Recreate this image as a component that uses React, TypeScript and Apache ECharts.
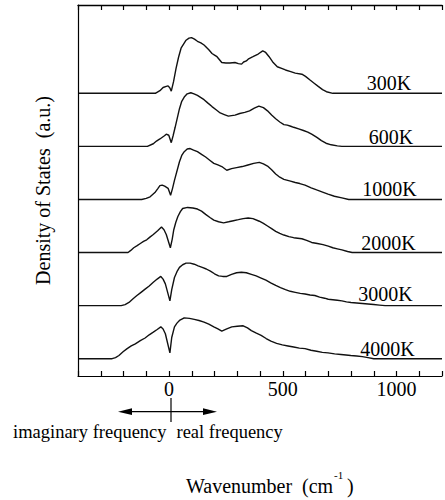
import React, { useEffect, useRef } from "react";
import * as echarts from "echarts";

// Wavenumber (cm^-1), density of states (a.u.)
const dos300K: number[][] = [[-400,0],[-60,0],[-40,0.05],[-26,0.11],[-12,0.13],[-4,0.14],[4,0.1],[10,0.04],[20,0.22],[31,0.47],[42,0.68],[53,0.85],[75,1.0],[88,1.04],[99,1.05],[112,1.02],[125,0.98],[140,0.95],[154,0.91],[175,0.82],[189,0.75],[200,0.72],[211,0.69],[232,0.58],[250,0.57],[268,0.57],[290,0.58],[305,0.56],[319,0.55],[328,0.59],[340,0.61],[350,0.65],[369,0.69],[392,0.74],[412,0.8],[425,0.77],[440,0.69],[458,0.58],[476,0.5],[495,0.47],[512,0.44],[535,0.41],[555,0.38],[584,0.36],[600,0.32],[620,0.25],[638,0.19],[656,0.13],[675,0.07],[692,0.03],[720,0],[1200,0]];
const dos600K: number[][] = [[-400,0],[-95,0],[-69,0.05],[-55,0.1],[-40,0.14],[-20,0.2],[-12,0.23],[-1,0.21],[10,0.07],[18,0.2],[27,0.36],[46,0.71],[56,0.85],[67,0.93],[80,0.99],[96,1.01],[110,0.99],[125,0.96],[154,0.88],[170,0.82],[189,0.75],[207,0.69],[225,0.63],[243,0.6],[261,0.57],[275,0.58],[290,0.59],[311,0.62],[333,0.64],[354,0.67],[375,0.72],[395,0.76],[415,0.73],[433,0.67],[451,0.59],[469,0.52],[487,0.46],[505,0.41],[520,0.4],[535,0.38],[548,0.36],[570,0.33],[591,0.3],[610,0.27],[627,0.23],[650,0.17],[670,0.11],[690,0.06],[713,0.03],[740,0.01],[760,0],[1200,0]];
const dos1000K: number[][] = [[-400,0],[-120,0],[-100,0.02],[-83,0.05],[-62,0.13],[-50,0.2],[-40,0.26],[-30,0.27],[-19,0.25],[-4,0.21],[7,0.08],[15,0.2],[24,0.36],[46,0.71],[56,0.83],[67,0.9],[80,0.95],[93,0.96],[108,0.93],[125,0.9],[143,0.85],[161,0.8],[179,0.74],[197,0.68],[215,0.65],[232,0.62],[254,0.55],[275,0.58],[297,0.6],[322,0.62],[347,0.65],[372,0.68],[397,0.7],[415,0.67],[433,0.63],[451,0.56],[469,0.48],[487,0.42],[505,0.38],[530,0.35],[555,0.32],[575,0.3],[598,0.27],[625,0.22],[649,0.18],[675,0.14],[699,0.1],[727,0.06],[760,0.03],[790,0],[1200,0]];
const dos2000K: number[][] = [[-400,0],[-180,0],[-168,0.04],[-155,0.09],[-140,0.13],[-126,0.17],[-112,0.21],[-98,0.24],[-84,0.29],[-69,0.34],[-50,0.41],[-33,0.48],[-22,0.43],[-12,0.34],[6,0.09],[14,0.25],[21,0.43],[30,0.57],[39,0.68],[50,0.77],[60,0.83],[82,0.85],[105,0.84],[125,0.82],[143,0.78],[161,0.72],[180,0.66],[197,0.61],[218,0.58],[240,0.56],[262,0.58],[283,0.6],[305,0.62],[326,0.64],[348,0.65],[369,0.64],[397,0.59],[415,0.55],[433,0.5],[451,0.45],[469,0.4],[487,0.36],[505,0.33],[527,0.3],[548,0.28],[566,0.27],[584,0.26],[605,0.23],[627,0.19],[652,0.17],[677,0.15],[700,0.12],[720,0.09],[740,0.07],[760,0.05],[785,0.02],[805,0],[1200,0]];
const dos3000K: number[][] = [[-400,0],[-210,0],[-193,0.02],[-176,0.06],[-158,0.13],[-141,0.19],[-123,0.25],[-105,0.31],[-87,0.37],[-69,0.44],[-52,0.5],[-36,0.55],[-26,0.5],[-16,0.41],[4,0.09],[12,0.3],[24,0.53],[35,0.64],[46,0.72],[60,0.77],[75,0.8],[93,0.8],[111,0.78],[128,0.75],[146,0.72],[164,0.69],[182,0.65],[200,0.6],[218,0.56],[236,0.55],[254,0.55],[275,0.59],[297,0.62],[318,0.63],[340,0.62],[362,0.59],[383,0.56],[405,0.52],[426,0.48],[447,0.43],[469,0.38],[490,0.34],[512,0.3],[533,0.27],[555,0.25],[577,0.23],[598,0.22],[620,0.2],[641,0.19],[662,0.16],[684,0.14],[700,0.12],[720,0.11],[740,0.1],[760,0.09],[780,0.07],[800,0.06],[825,0.05],[850,0.04],[875,0.03],[900,0.02],[925,0.01],[950,0],[1200,0]];
const dos4000K: number[][] = [[-400,0],[-250,0],[-235,0.02],[-220,0.06],[-202,0.13],[-184,0.19],[-166,0.24],[-148,0.28],[-126,0.34],[-105,0.39],[-87,0.45],[-69,0.5],[-52,0.55],[-36,0.6],[-26,0.56],[-16,0.47],[4,0.11],[12,0.4],[24,0.6],[35,0.67],[46,0.72],[67,0.77],[90,0.76],[111,0.74],[132,0.72],[154,0.69],[175,0.65],[197,0.6],[215,0.56],[232,0.52],[254,0.56],[276,0.6],[300,0.61],[326,0.62],[345,0.58],[362,0.53],[384,0.48],[405,0.44],[427,0.38],[448,0.33],[473,0.29],[498,0.26],[523,0.24],[548,0.22],[573,0.2],[598,0.19],[624,0.16],[649,0.14],[674,0.12],[699,0.11],[728,0.09],[756,0.08],[778,0.07],[799,0.06],[825,0.05],[850,0.04],[875,0.02],[900,0],[1200,0]];

const temperatures = ["300K", "600K", "1000K", "2000K", "3000K", "4000K"];
const curves = [dos300K, dos600K, dos1000K, dos2000K, dos3000K, dos4000K];
const offsets = [5, 4, 3, 2, 1, 0];
const majorTicks = [0, 500, 1000];
const X_MIN = -400;
const X_MAX = 1200;
const Y_MIN = -0.326;
const Y_MAX = 6.664;

const FONT = "Liberation Serif";

export default function App() {
  const ref = useRef<HTMLDivElement>(null);
  useEffect(() => {
    if (!ref.current) return;
    const chart = echarts.init(ref.current, undefined, { renderer: "svg" });
    const labelY = [83, 137, 189, 243, 294, 349];
    const labelX = [389, 391, 389.5, 388.5, 385.5, 387.5];
    const tickStyle = { color: "#000", width: 1.2 };
    chart.setOption({
      animation: false,
      textStyle: { fontFamily: FONT },
      grid: { left: 78, right: -4, top: 5, bottom: 124 },
      xAxis: [
        {
          type: "value",
          min: X_MIN,
          max: X_MAX,
          interval: 100,
          position: "bottom",
          z: 20,
          splitLine: { show: false },
          axisLine: { show: true, onZero: false, lineStyle: { color: "#000", width: 1.2 } },
          axisTick: { show: true, inside: true, length: 5, lineStyle: tickStyle },
          axisLabel: {
            show: true,
            formatter: (v: number) => (majorTicks.indexOf(v) >= 0 ? String(v) : ""),
            color: "#000",
            fontFamily: FONT,
            fontSize: 20,
            margin: 3,
          },
        },
        {
          type: "value",
          min: X_MIN,
          max: X_MAX,
          interval: 100,
          position: "top",
          z: 20,
          splitLine: { show: false },
          axisLine: { show: true, onZero: false, lineStyle: { color: "#000", width: 1.4 } },
          axisTick: { show: true, inside: true, length: 5, lineStyle: tickStyle },
          axisLabel: { show: false },
        },
      ],
      yAxis: {
        type: "value",
        min: Y_MIN,
        max: Y_MAX,
        z: 20,
        axisLine: { show: true, onZero: false, lineStyle: { color: "#000", width: 1.2 } },
        axisTick: { show: false },
        axisLabel: { show: false },
        splitLine: { show: false },
        name: "Density of States  (a.u.)",
        nameLocation: "middle",
        nameRotate: 90,
        nameGap: 25,
        nameTextStyle: { color: "#000", fontFamily: FONT, fontSize: 20 },
      },
      series: curves.map((c, i) => ({
        type: "line",
        name: temperatures[i],
        xAxisIndex: 0,
        data: c.map(([x, y]) => [x, y + offsets[i]]),
        showSymbol: false,
        symbol: "none",
        lineStyle: { color: "#111", width: 1.4 },
        z: 3,
      })),
      graphic: [
        ...temperatures.map((t, i) => ({
          type: "text",
          x: labelX[i],
          y: labelY[i],
          z: 10,
          style: {
            text: t,
            fontFamily: FONT,
            fontSize: 20,
            fill: "#000",
            align: "center",
            verticalAlign: "middle",
          },
        })),
        { type: "line", z: 100, shape: { x1: 124, y1: 411.7, x2: 210, y2: 411.7 }, style: { stroke: "#000", lineWidth: 1.2 } },
        { type: "polygon", z: 100, shape: { points: [[118, 411.7], [132, 408.3], [132, 415.1]] }, style: { fill: "#000" } },
        { type: "polygon", z: 100, shape: { points: [[217, 411.7], [203, 408.3], [203, 415.1]] }, style: { fill: "#000" } },
        { type: "line", z: 100, shape: { x1: 171, y1: 398, x2: 171, y2: 422 }, style: { stroke: "#000", lineWidth: 1.2 } },
        {
          type: "text",
          x: 13,
          y: 432,
          style: { text: "imaginary frequency", fontFamily: FONT, fontSize: 18.5, fill: "#000", verticalAlign: "middle" },
        },
        {
          type: "text",
          x: 176.5,
          y: 432,
          style: { text: "real frequency", fontFamily: FONT, fontSize: 18.5, fill: "#000", verticalAlign: "middle" },
        },
        {
          type: "text",
          x: 186,
          y: 486,
          style: { text: "Wavenumber", fontFamily: FONT, fontSize: 20, fill: "#000", verticalAlign: "middle" },
        },
        {
          type: "text",
          x: 302,
          y: 486,
          style: { text: "(cm", fontFamily: FONT, fontSize: 20, fill: "#000", verticalAlign: "middle" },
        },
        {
          type: "text",
          x: 334,
          y: 475,
          style: { text: "-1", fontFamily: FONT, fontSize: 11, fill: "#000", verticalAlign: "middle" },
        },
        {
          type: "text",
          x: 347,
          y: 486,
          style: { text: ")", fontFamily: FONT, fontSize: 20, fill: "#000", verticalAlign: "middle" },
        },
      ],
    });
    return () => chart.dispose();
  }, []);
  return (
    <div
      ref={ref}
      style={{ position: "absolute", left: 0, top: 0, width: 445, height: 500, background: "#fff" }}
    />
  );
}
